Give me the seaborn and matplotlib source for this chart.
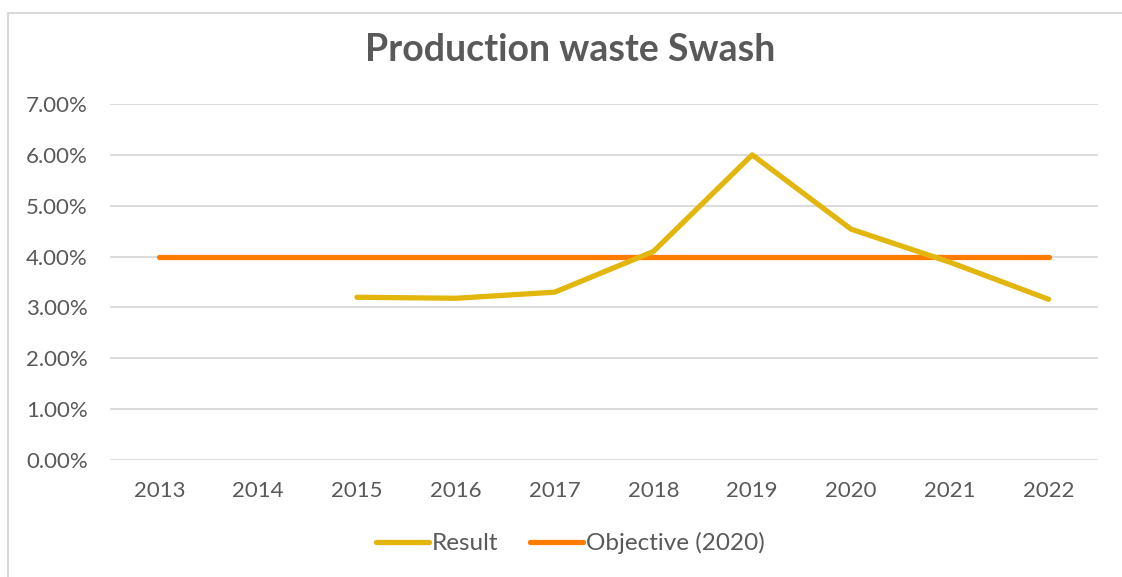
import matplotlib
matplotlib.use("Agg")
import matplotlib.pyplot as plt
import seaborn as sns
import pandas as pd
from matplotlib.patches import Rectangle

years = [2013, 2014, 2015, 2016, 2017, 2018, 2019, 2020, 2021, 2022]
result_years = [2015, 2016, 2017, 2018, 2019, 2020, 2021, 2022]
result_values = [0.0320, 0.0318, 0.0330, 0.0410, 0.0600, 0.0454, 0.0389, 0.0316]
objective_values = [0.04] * 10
y_ticks = [0.0, 0.01, 0.02, 0.03, 0.04, 0.05, 0.06, 0.07]
title = "Production waste Swash"

sns.set_theme(style="white")
plt.rcParams['font.family'] = ['Lato', 'DejaVu Sans']

fig = plt.figure(figsize=(11.22, 5.77), dpi=100)
ax = fig.add_axes([110/1122, 1-460/577, (1098-110)/1122, (460-104)/577])

df_r = pd.DataFrame({"year": result_years, "value": result_values})
df_o = pd.DataFrame({"year": years, "value": objective_values})

res_col = "#E3B60E"
obj_col = "#FF7C00"
sns.lineplot(data=df_o, x="year", y="value", ax=ax, color=obj_col, lw=3.8,
             solid_capstyle="round", label="Objective (2020)", zorder=3)
sns.lineplot(data=df_r, x="year", y="value", ax=ax, color=res_col, lw=3.8,
             solid_capstyle="round", solid_joinstyle="round", label="Result", zorder=4)

ax.set_xlim(2012.5, 2022.5)
ax.set_ylim(0, 0.07)
ax.set_yticks(y_ticks)
ax.set_yticklabels([f"{v*100:.2f}%" for v in y_ticks])
ax.set_xticks(years)
ax.set_xticklabels([str(y) for y in years])
ax.yaxis.grid(True, color="#D9D9D9", lw=1.3)
ax.set_axisbelow(True)
for s in ax.spines.values():
    s.set_visible(False)
ax.tick_params(axis="y", length=0, pad=16, labelsize=16, labelcolor="#595959")
ax.tick_params(axis="x", length=0, pad=15, labelsize=16, labelcolor="#595959")
ax.set_xlabel("")
ax.set_ylabel("")

handles, labels = ax.get_legend_handles_labels()
order = [labels.index("Result"), labels.index("Objective (2020)")]
leg = ax.legend([handles[i] for i in order], [labels[i] for i in order],
                loc="center", bbox_to_anchor=(570/1122, (577-543)/577), bbox_transform=fig.transFigure,
                ncol=2, frameon=False, fontsize=17.5, handlelength=2.2, handletextpad=0.1,
                columnspacing=1.3)
for t in leg.get_texts():
    t.set_color("#595959")
for h in leg.get_lines():
    h.set_linewidth(3.8)
    h.set_solid_capstyle("round")

fig.text(570/1122, 1-50/577, title, ha="center", va="center", fontsize=27,
         fontweight="bold", color="#595959")

fig.patches.append(Rectangle((8/1122, -0.01), 1.02, 1-13/577+0.01, transform=fig.transFigure,
                             fill=False, edgecolor="#D9D9D9", lw=1.5, zorder=0))

fig.savefig("out.png", dpi=100)
